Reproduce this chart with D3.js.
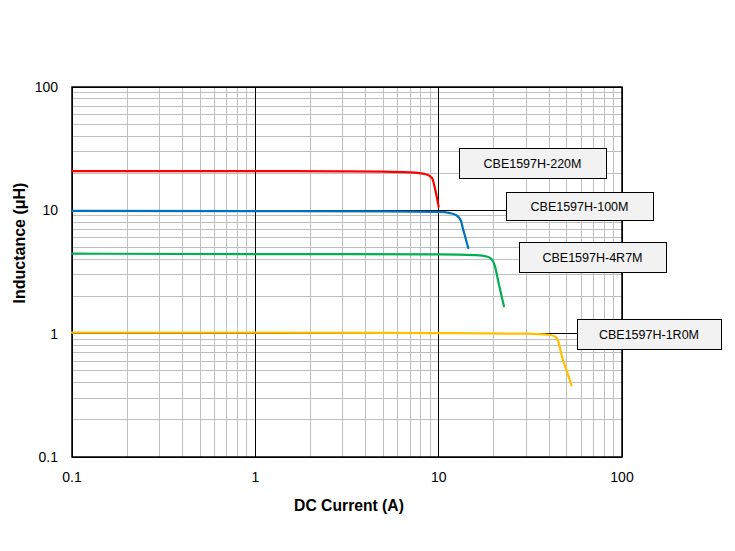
<!DOCTYPE html>
<html><head><meta charset="utf-8">
<script src="https://cdn.jsdelivr.net/npm/d3@7"></script>
<style>body{margin:0;background:#fff}svg{display:block}text{font-family:"Liberation Sans",Arial,sans-serif}</style>
</head><body>
<script>
// Data
const xTicks = [0.1, 1, 10, 100];
const yTicks = [0.1, 1, 10, 100];
const s220 = [[0.1,20.8],[1,20.8],[3,20.7],[5,20.6],[7,20.3],[8.5,19.6],[9.2,18.3],[9.6,14.5],[10,10.7]];
const s100 = [[0.1,9.9],[1,9.85],[5,9.8],[10,9.72],[11.5,9.5],[12.5,9.1],[13.2,8.3],[13.6,7.0],[14.0,6.0],[14.5,4.95]];
const s4r7 = [[0.1,4.45],[1,4.42],[10,4.4],[16,4.34],[18.5,4.2],[19.5,4.0],[20.3,3.5],[21.2,2.6],[22.7,1.67]];
const s1r0 = [[0.1,1.02],[1,1.02],[10,1.01],[30,1.0],[40,0.98],[43,0.95],[44.5,0.9],[46,0.75],[47.5,0.62],[50,0.5],[53,0.38]];
const seriesNames = ["CBE1597H-220M","CBE1597H-100M","CBE1597H-4R7M","CBE1597H-1R0M"];
const seriesColors = ["#ff0000","#0070c0","#00b050","#ffc000"];
const seriesData = [s220, s100, s4r7, s1r0];
// label boxes [x0,y0,x1,y1] in pixel layout
const boxes = [[459,148,606,178],[506,192,653,220],[519,242,666,272],[577,319,721,349]];

const W = 735, H = 551;
const svg = d3.select("body").append("svg").attr("width", W).attr("height", H);
const L = 72, R = 622, T = 87, B = 457;
const x = d3.scaleLog().domain([0.1, 100]).range([L, R]);
const y = d3.scaleLog().domain([0.1, 100]).range([B, T]);

// minor gridlines
const minors = [];
for (let d = 0.1; d < 100; d *= 10) for (let k = 2; k <= 9; k++) minors.push(+(d * k).toPrecision(3));
const g = svg.append("g");
g.selectAll(".vx").data(minors).join("line")
  .attr("x1", d => x(d)).attr("x2", d => x(d)).attr("y1", T).attr("y2", B)
  .attr("stroke", "#bfbfbf").attr("stroke-width", 1).attr("shape-rendering","crispEdges");
g.selectAll(".hy").data(minors).join("line")
  .attr("y1", d => y(d)).attr("y2", d => y(d)).attr("x1", L).attr("x2", R)
  .attr("stroke", "#bfbfbf").attr("stroke-width", 1).attr("shape-rendering","crispEdges");
// major gridlines
g.selectAll(".mx").data(xTicks).join("line")
  .attr("x1", d => x(d)).attr("x2", d => x(d)).attr("y1", T).attr("y2", B)
  .attr("stroke", "#000").attr("stroke-width", 1).attr("shape-rendering","crispEdges");
g.selectAll(".my").data(yTicks).join("line")
  .attr("y1", d => y(d)).attr("y2", d => y(d)).attr("x1", L).attr("x2", R)
  .attr("stroke", "#000").attr("stroke-width", 1).attr("shape-rendering","crispEdges");
svg.append("rect").attr("x", L).attr("y", T).attr("width", R - L).attr("height", B - T)
  .attr("fill", "none").attr("stroke", "#000").attr("stroke-width", 1.5);

// tick labels
svg.selectAll(".xt").data(xTicks).join("text")
  .attr("x", d => x(d)).attr("y", 482).attr("text-anchor", "middle")
  .attr("font-size", 14).attr("fill", "#000").text(d => d);
svg.selectAll(".yt").data(yTicks).join("text")
  .attr("x", 58).attr("y", d => y(d) + 5).attr("text-anchor", "end")
  .attr("font-size", 14).attr("fill", "#000").text(d => d);

// axis titles
svg.append("text").attr("x", 349).attr("y", 511).attr("text-anchor", "middle")
  .attr("font-size", 15.7).attr("font-weight", "bold").text("DC Current (A)");
svg.append("text").attr("transform", "translate(25,243) rotate(-90)").attr("text-anchor", "middle")
  .attr("font-size", 16).attr("font-weight", "bold").text("Inductance (\u03bcH)");

// curves
const line = d3.line().x(d => x(d[0])).y(d => y(d[1])).curve(d3.curveMonotoneX);
seriesData.forEach((s, i) => {
  svg.append("path").attr("d", line(s)).attr("fill", "none")
    .attr("stroke", seriesColors[i]).attr("stroke-width", 2.2)
    .attr("stroke-linejoin", "round").attr("stroke-linecap", "round");
});

// labels
boxes.forEach((b, i) => {
  svg.append("rect").attr("x", b[0] + 0.5).attr("y", b[1] + 0.5)
    .attr("width", b[2] - b[0]).attr("height", b[3] - b[1])
    .attr("fill", "#f2f2f2").attr("stroke", "#000").attr("stroke-width", 1);
  svg.append("text").attr("x", (b[0] + b[2]) / 2).attr("y", (b[1] + b[3]) / 2 + 4.5)
    .attr("text-anchor", "middle").attr("font-size", 12.5).attr("fill", "#000")
    .text(seriesNames[i]);
});
</script>
</body></html>
